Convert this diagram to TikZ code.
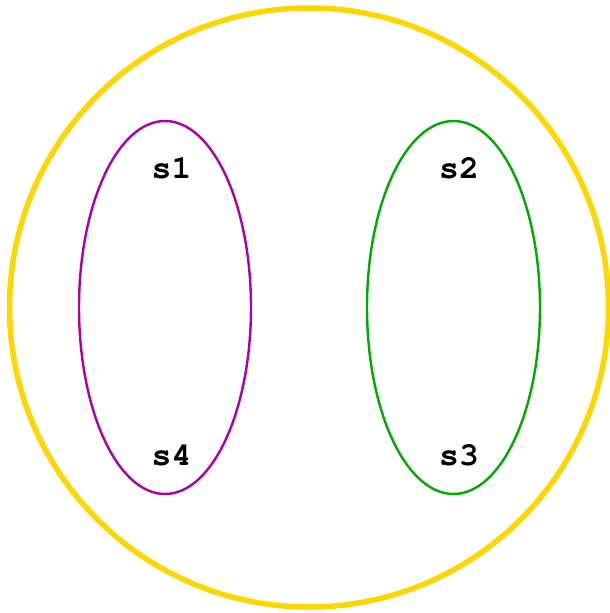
\documentclass[tikz,border=0pt]{standalone}
\usepackage{fontspec}
\setmonofont{TeX Gyre Cursor}
\begin{document}
\begin{tikzpicture}[x=1pt,y=-1pt,
  lbl/.style={font=\ttfamily\bfseries\fontsize{33}{33}\selectfont, inner sep=0pt},
  setline/.style={line width=2.4pt}]
\definecolor{gold}{RGB}{255,215,0}
\definecolor{setpurple}{RGB}{170,0,170}
\definecolor{setgreen}{RGB}{0,170,0}
\useasboundingbox (0,0) rectangle (610,613);
\draw[gold, line width=5.5pt] (309,307.5) circle (299.5);
\draw[setpurple, setline] (165,307.5) ellipse (86 and 186.5);
\draw[setgreen, setline] (453.5,307.5) ellipse (86.5 and 186.5);
\node[lbl] (s1) at (171.5,168.5) {s1};
\node[lbl] (s4) at (171.5,455.5) {s4};
\node[lbl] (s2) at (459,168.5) {s2};
\node[lbl] (s3) at (459,455.5) {s3};
\end{tikzpicture}
\end{document}
